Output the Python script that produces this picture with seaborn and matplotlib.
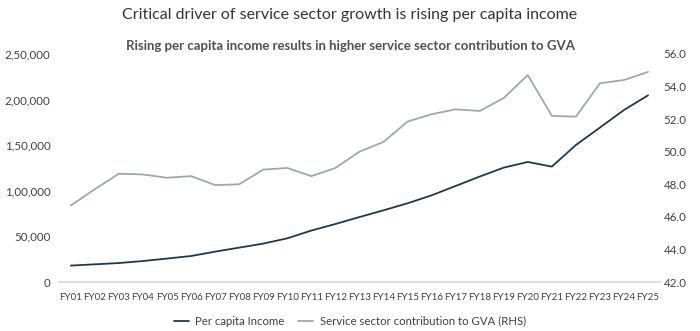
import matplotlib
matplotlib.use("Agg")
import matplotlib.pyplot as plt
import seaborn as sns
import pandas as pd
from matplotlib.lines import Line2D

# Fiscal years
years = [f"FY{i:02d}" for i in range(1, 26)]

# Per capita income (Rs), left axis
per_capita_income = [18000, 19400, 20800, 23000, 25700, 28500, 33300, 37700, 42100,
                     47900, 56400, 63600, 71200, 78600, 86300, 95000, 105300, 115600,
                     125400, 131600, 126500, 150200, 169300, 188600, 204700]

# Service sector share of GVA (%), right axis
service_share = [46.7, 47.7, 48.65, 48.6, 48.4, 48.5, 47.95, 48.0, 48.9, 49.0, 48.5,
                 49.0, 50.0, 50.6, 51.85, 52.3, 52.6, 52.5, 53.3, 54.7, 52.2, 52.15,
                 54.2, 54.4, 54.9]

left_ticks = [0, 50000, 100000, 150000, 200000, 250000]
left_tick_labels = ["0", "50,000", "1,00,000", "1,50,000", "2,00,000", "2,50,000"]
right_ticks = [42, 44, 46, 48, 50, 52, 54, 56]

df = pd.DataFrame({"year": years, "income": per_capita_income, "share": service_share})
df["pos"] = range(len(years))

dark = "#1d3a4c"
light = "#9ea8ae"
text_col = "#404040"

sns.set_theme(style="white")
plt.rcParams["font.family"] = ["Lato", "DejaVu Sans"]

fig = plt.figure(figsize=(7.0, 3.31), dpi=100)
ax = fig.add_axes([0.084, 0.148, 0.859, 0.689])
ax2 = ax.twinx()

sns.lineplot(data=df, x="pos", y="income", ax=ax, color=dark, linewidth=1.3)
sns.lineplot(data=df, x="pos", y="share", ax=ax2, color=light, linewidth=1.3)

ax.set_xlim(-0.5, len(years) - 0.5)
ax.set_ylim(0, 250000)
ax2.set_ylim(42, 56)

ax.set_xticks(df["pos"])
ax.set_xticklabels(years, fontsize=7, color=text_col)
ax.set_yticks(left_ticks)
ax.set_yticklabels(left_tick_labels, fontsize=8.3, color=text_col)
ax2.set_yticks(right_ticks)
ax2.set_yticklabels([f"{v:.1f}" for v in right_ticks], fontsize=8.3, color=text_col)

for a in (ax, ax2):
    a.set_xlabel("")
    a.set_ylabel("")
    for s in ("top", "left", "right"):
        a.spines[s].set_visible(False)
    a.spines["bottom"].set_color("#d9d9d9")
    a.tick_params(length=0)
ax2.spines["bottom"].set_visible(False)
ax.tick_params(axis="x", pad=8)
ax.tick_params(axis="y", pad=6)
ax2.tick_params(axis="y", pad=2.5)

fig.text(0.5, 0.955, "Critical driver of service sector growth is rising per capita income",
         ha="center", va="center", fontsize=11.5, color="#333333")
fig.text(0.5, 0.862, "Rising per capita income results in higher service sector contribution to GVA",
         ha="center", va="center", fontsize=9.5, fontweight="bold", color="#505050")

handles = [Line2D([], [], color=dark, linewidth=1.3),
           Line2D([], [], color=light, linewidth=1.3)]
fig.legend(handles, ["Per capita Income", "Service sector contribution to GVA (RHS)"],
           loc="center", bbox_to_anchor=(0.5, 0.03), ncol=2, frameon=False,
           fontsize=8.2, handlelength=1.3, handletextpad=0.6, columnspacing=1.2,
           labelcolor=text_col)

fig.savefig("out.png", dpi=100)
